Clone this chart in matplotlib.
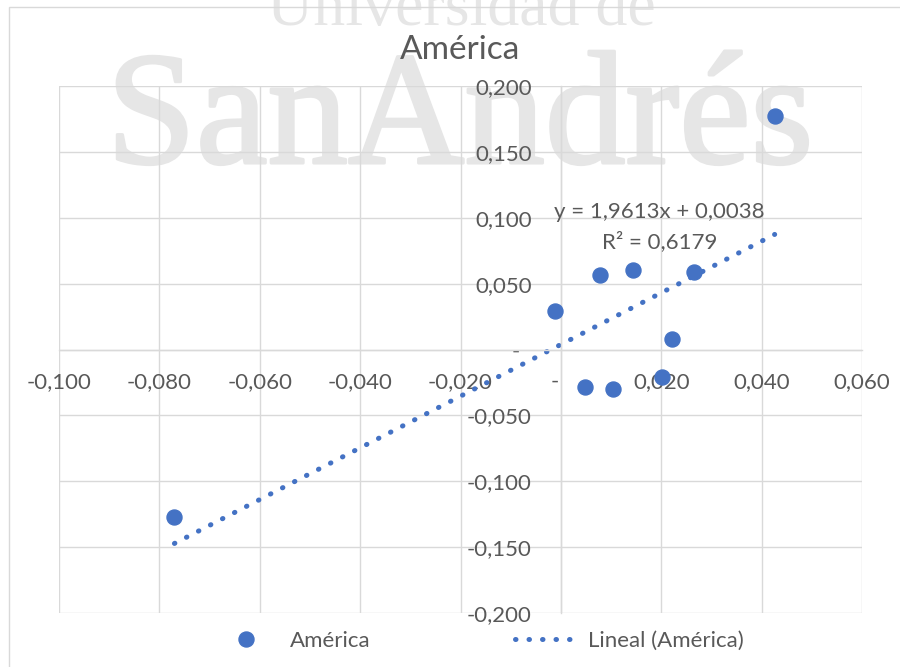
import matplotlib.pyplot as plt
import matplotlib.patheffects as pe
from matplotlib.lines import Line2D
from matplotlib.patches import Rectangle
from matplotlib.ticker import FuncFormatter
import numpy as np

plt.rcParams['font.family'] = ['Lato', 'DejaVu Sans']

# returns for América
x_vals = [0.0426, -0.0770, -0.0012, 0.0077, 0.0143, 0.0265, 0.0221, 0.0049, 0.0104, 0.0201]
y_vals = [0.1773, -0.1268, 0.0295, 0.0568, 0.0601, 0.0586, 0.0081, -0.0286, -0.0303, -0.0207]

# linear trendline as given by the equation label
slope = 1.9613
intercept = 0.0038
r2 = 0.6179

x_ticks = [-0.10, -0.08, -0.06, -0.04, -0.02, 0.0, 0.02, 0.04, 0.06]
y_ticks = [-0.20, -0.15, -0.10, -0.05, 0.0, 0.05, 0.10, 0.15, 0.20]

blue = '#4472C4'
grey_txt = '#595959'
grid_col = '#d9d9d9'
mark_col = '#e6e6e6'


def fmt(v, pos=None):
    if abs(v) < 1e-12:
        return '-  '
    return f'{v:.3f}'.replace('.', ',')


fig = plt.figure(figsize=(9, 6.67), dpi=100)
ax = fig.add_axes([59 / 900, 1 - 613 / 667, 803 / 900, 527 / 667])

# chart border
fig.patches.append(Rectangle((9 / 900, -0.01), 1.0, 1 - 7 / 667 + 0.01,
                             transform=fig.transFigure, fill=False,
                             edgecolor=grid_col, lw=1.0))

ax.set_xlim(x_ticks[0], x_ticks[-1])
ax.set_ylim(y_ticks[0], y_ticks[-1])
ax.set_xticks(x_ticks)
ax.set_yticks(y_ticks)
ax.xaxis.set_major_formatter(FuncFormatter(fmt))
ax.yaxis.set_major_formatter(FuncFormatter(fmt))
ax.set_axisbelow(True)
ax.grid(True, color=grid_col, lw=1.0)

ax.spines['left'].set_position(('data', 0))
ax.spines['bottom'].set_position(('data', 0))
ax.spines['top'].set_visible(False)
ax.spines['right'].set_visible(False)
for s in ['left', 'bottom']:
    ax.spines[s].set_color(grid_col)
    ax.spines[s].set_linewidth(1.0)

ax.tick_params(axis='x', length=0, pad=16, labelsize=16, labelcolor=grey_txt)
ax.tick_params(axis='y', length=0, pad=21, labelsize=16, labelcolor=grey_txt)

# watermark, behind the grid
ax.text(461 / 900, 1 - 25 / 667, 'Universidad de', transform=fig.transFigure,
        family='Liberation Serif', fontsize=46, color=mark_col,
        ha='center', va='baseline', clip_on=False, zorder=0.3)
ax.text(460 / 900, 1 - 163 / 667, 'SanAndrés', transform=fig.transFigure,
        family='Liberation Serif', fontsize=116, color=mark_col,
        ha='center', va='baseline', clip_on=False, zorder=0.3,
        path_effects=[pe.withStroke(linewidth=2.2, foreground=mark_col)])

# trendline and points
xt = np.linspace(min(x_vals), max(x_vals), 200)
ax.plot(xt, slope * xt + intercept, color=blue, lw=3.6,
        linestyle=(0, (0.1, 2.6)), dash_capstyle='round', zorder=2)
ax.plot(x_vals, y_vals, 'o', color=blue, ms=10.8, zorder=3)

ax.text(0.0197, 0.104, f'y = {slope:.4f}x + {intercept:.4f}'.replace('.', ','),
        ha='center', va='center', fontsize=16, color=grey_txt, zorder=4)
ax.text(0.0197, 0.082, f'R² = {r2:.4f}'.replace('.', ','),
        ha='center', va='center', fontsize=16, color=grey_txt, zorder=4)

fig.text(460 / 900, 1 - 50 / 667, 'América', ha='center', va='center',
         fontsize=24, color=grey_txt)

handles = [
    Line2D([], [], marker='o', color=blue, ms=10.8, linestyle='none', label='América'),
    Line2D([], [], color=blue, lw=3.6, linestyle=(0, (0.1, 2.6)),
           dash_capstyle='round', label='Lineal (América)'),
]
leg = fig.legend(handles=handles, loc='center', bbox_to_anchor=(480 / 900, 1 - 641 / 667),
                 ncol=2, frameon=False, fontsize=16, handlelength=2.7,
                 handletextpad=0.6, columnspacing=6.5)
for t in leg.get_texts():
    t.set_color(grey_txt)

fig.savefig('out.png', dpi=100)
